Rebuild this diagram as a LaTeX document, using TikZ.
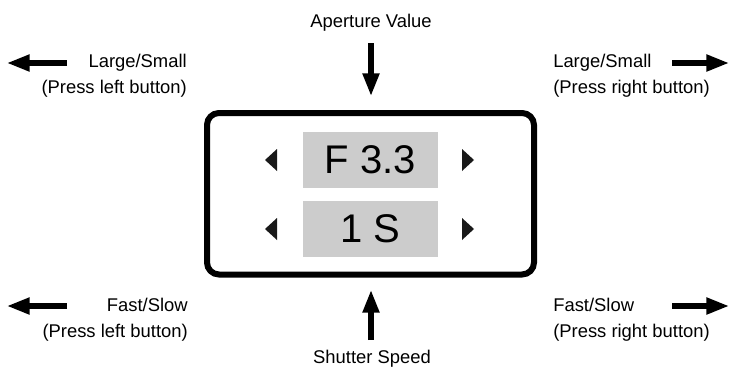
\documentclass[tikz,border=0pt]{standalone}
\usepackage{fontspec}
\setmainfont{Liberation Sans}
\usetikzlibrary{arrows.meta,positioning}

\begin{document}
\begin{tikzpicture}[x=0.75pt, y=-0.75pt]
    % Define styles
    \tikzstyle{label} = [font=\fontsize{13.8}{16}\selectfont, inner sep=0pt]
    \tikzstyle{value} = [rectangle, fill=black!20, minimum width=101.25pt, minimum height=42pt, inner sep=0pt, font=\fontsize{30}{32}\selectfont]
    \tikzstyle{arrow} = [line width=3.8pt, -{Triangle[length=17pt, width=12pt]}]
    \tikzstyle{tri} = [fill=black!90]

    \useasboundingbox (0,0) rectangle (730,368);

    % Display
    \draw [line width=4.5pt, rounded corners=9pt] (207,113) rectangle (534,274.5);
    \node [value] (fvalue) at (370.5,160) {F 3.3};
    \node [value] (svalue) at (370.5,229) {1 S};

    % Triangles
    \foreach \y in {160,229} {
        \fill [tri] (265,\y) -- (277,\y-11) -- (277,\y+11) -- cycle;
        \fill [tri] (474,\y) -- (462,\y-11) -- (462,\y+11) -- cycle;
    }

    % Labels
    \node [label, anchor=base] (aperture) at (371,27) {Aperture Value};
    \node [label, anchor=base] (shutter) at (372,363) {Shutter Speed};
    \node [label, anchor=base east] (largeL) at (187,67) {Large/Small};
    \node [label, anchor=base east] (pressLT) at (187,93) {(Press left button)};
    \node [label, anchor=base west] (largeR) at (553,67) {Large/Small};
    \node [label, anchor=base west] (pressRT) at (553,93) {(Press right button)};
    \node [label, anchor=base east] (fastL) at (188,311) {Fast/Slow};
    \node [label, anchor=base east] (pressLB) at (188,337) {(Press left button)};
    \node [label, anchor=base west] (fastR) at (553,311) {Fast/Slow};
    \node [label, anchor=base west] (pressRB) at (553,337) {(Press right button)};

    % Arrow ends
    \coordinate (apA) at (371,43);
    \coordinate (apB) at (371,96);
    \coordinate (shA) at (371,340);
    \coordinate (shB) at (371,290);
    \coordinate (tlA) at (67,63);
    \coordinate (tlB) at (7,63);
    \coordinate (trA) at (672,63);
    \coordinate (trB) at (729,63);
    \coordinate (blA) at (67,306);
    \coordinate (blB) at (7,306);
    \coordinate (brA) at (672,306);
    \coordinate (brB) at (729,306);

    % Arrows
    \draw [arrow] (apA) -- (apB);
    \draw [arrow] (shA) -- (shB);
    \draw [arrow] (tlA) -- (tlB);
    \draw [arrow] (trA) -- (trB);
    \draw [arrow] (blA) -- (blB);
    \draw [arrow] (brA) -- (brB);
\end{tikzpicture}
\end{document}
